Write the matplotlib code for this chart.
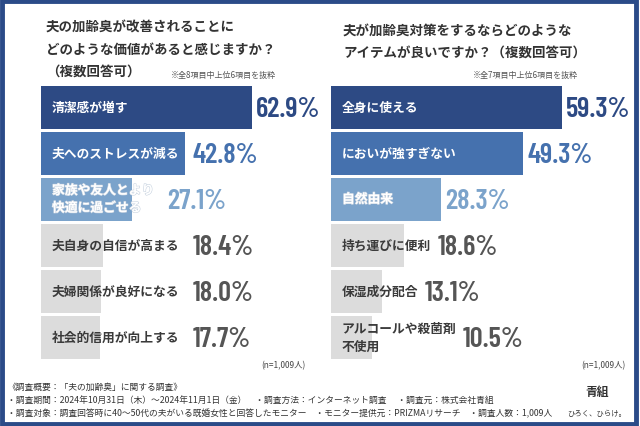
import matplotlib
matplotlib.use("Agg")
import matplotlib.pyplot as plt
from matplotlib.patches import Rectangle
import matplotlib.patheffects as pe

plt.rcParams['font.family'] = ['Noto Sans CJK JP', 'DejaVu Sans']

# ---- data ----
left_title = ["夫の加齢臭が改善されることに", "どのような価値があると感じますか？", "（複数回答可）"]
left_note = "※全8項目中上位6項目を抜粋"
left_labels = ["清潔感が増す", "夫へのストレスが減る", "家族や友人とより\n快適に過ごせる",
               "夫自身の自信が高まる", "夫婦関係が良好になる", "社会的信用が向上する"]
left_values = [62.9, 42.8, 27.1, 18.4, 18.0, 17.7]

right_title = ["夫が加齢臭対策をするならどのような", "アイテムが良いですか？（複数回答可）"]
right_note = "※全7項目中上位6項目を抜粋"
right_labels = ["全身に使える", "においが強すぎない", "自然由来",
                "持ち運びに便利", "保湿成分配合", "アルコールや殺菌剤\n不使用"]
right_values = [59.3, 49.3, 28.3, 18.6, 13.1, 10.5]

n_note = "(n=1,009人)"
footer_lines = [
    "《調査概要：「夫の加齢臭」に関する調査》",
    "・調査期間：2024年10月31日（木）～2024年11月1日（金）　・調査方法：インターネット調査　 ・調査元：株式会社青組",
    "・調査対象：調査回答時に40～50代の夫がいる既婚女性と回答したモニター　・モニター提供元：PRIZMAリサーチ　・調査人数：1,009人",
]
brand = "青組"
slogan = "ひろく、ひらけ。"

bar_colors = ["#2d4a84", "#4571ae", "#7ba3cb", "#dcdcdc", "#dcdcdc", "#dcdcdc"]
pct_colors = ["#2d4a84", "#4571ae", "#7ba3cb", "#555555", "#555555", "#555555"]
label_colors = ["white", "white", "white", "#3a3a3a", "#3a3a3a", "#3a3a3a"]

W, H = 640, 427
fig = plt.figure(figsize=(6.4, 4.27), dpi=100)
fig.patch.set_facecolor("white")

def px(x, y):
    return x / W, 1 - y / H

# border
fig.patches.append(Rectangle((0.003, 0.005), 0.991, 0.99, transform=fig.transFigure,
                             fill=False, edgecolor="#2b4b88", linewidth=3.5, zorder=10))

num_font = ['Barlow Condensed', 'Roboto Condensed', 'DejaVu Sans']

def panel(x0, scale, xmax, labels, values, title, title_x, title_ys, note, note_xy,
          gap_bar, gap_label, n_xy):
    top, bottom = 87, 360
    ax = fig.add_axes([x0 / W, 1 - bottom / H, scale * xmax / W, (bottom - top) / H])
    ax.set_xlim(0, xmax)
    h = 0.93
    ax.set_ylim(len(values) - 0.5 - (1 - h) / 2, -0.5 + (1 - h) / 2)
    ax.axis("off")
    ys = list(range(len(values)))
    ax.barh(ys, values, height=h, color=bar_colors, left=0)
    fig.canvas.draw()
    r = fig.canvas.get_renderer()
    inv = ax.transData.inverted()
    for i, (lab, v) in enumerate(zip(labels, values)):
        t = ax.text(11 / scale, i, lab, color=label_colors[i], fontsize=9.2,
                    fontweight="bold", va="center", ha="left", linespacing=1.45)
        if i == 2 and label_colors[i] == "white":
            t.set_path_effects([pe.withStroke(linewidth=0.8, foreground="#c8d3e0")])
        ext = t.get_window_extent(renderer=r)
        lab_end = inv.transform((ext.x1, 0))[0]
        xpos = max(v + gap_bar / scale, lab_end + gap_label / scale)
        ax.text(xpos, i + 0.02, f"{v:.1f}%", color=pct_colors[i], fontsize=20.5,
                fontweight=600, family=num_font, va="center", ha="left")
    for line, yy in zip(title, title_ys):
        fx, fy = px(title_x, yy)
        fig.text(fx, fy, line, fontsize=9.7, fontweight="bold", color="#333333",
                 va="center", ha="left")
    nx, ny = px(*note_xy)
    fig.text(nx, ny, note, fontsize=5.8, color="#555555", va="center", ha="left")
    qx, qy = px(*n_xy)
    fig.text(qx, qy, n_note, fontsize=6.0, color="#444444", va="center", ha="right")
    return ax

panel(41, 3.355, 100, left_labels, left_values, left_title, 46, [28, 50, 72],
      left_note, (171, 75), 4, 13, (306, 366))
panel(331, 3.9, 77, right_labels, right_values, right_title, 343, [32, 53],
      right_note, (473, 75), 4, 6, (626, 366))

for k, line in enumerate(footer_lines):
    fx, fy = px(7, 387 + 13.5 * k)
    fig.text(fx, fy, line, fontsize=6.3, color="#333333", va="center", ha="left")

bx, by = px(597, 393)
fig.text(bx, by, brand, fontsize=8.5, fontweight="bold", color="#333333", ha="center", va="center")
sx, sy = px(597, 414)
fig.text(sx, sy, slogan, fontsize=5.3, color="#333333", ha="center", va="center")

fig.savefig("out.png", dpi=100, facecolor="white")
